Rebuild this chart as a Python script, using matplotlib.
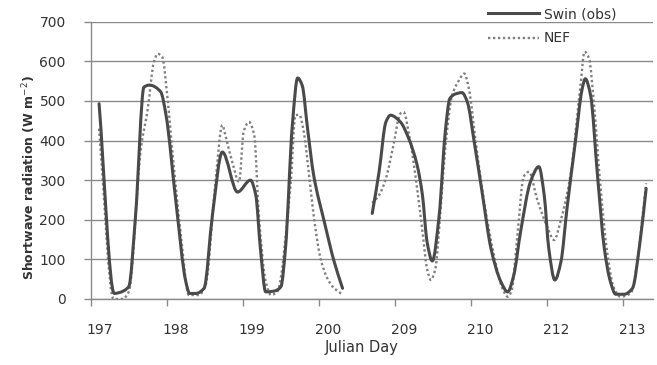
import numpy as np
import matplotlib
matplotlib.use("Agg")
import matplotlib.pyplot as plt
from matplotlib.path import Path
from matplotlib.patches import PathPatch
from matplotlib.lines import Line2D

# ---------------- data ----------------
# x is measured in "plotted days" (category axis: 0 = left edge, 1 unit = one labelled day)
day_labels = ['197', '198', '199', '200', '209', '210', '212', '213']

swin1_x = [0.11, 0.31, 0.37, 0.50, 0.59, 0.70, 0.77, 0.92, 0.99, 1.12, 1.25, 1.30, 1.38, 1.49,
           1.60, 1.73, 1.93, 2.10, 2.17, 2.23, 2.30, 2.41, 2.50, 2.56, 2.65, 2.72, 2.78, 2.85,
           2.93, 3.07, 3.20, 3.31]
swin1_y = [493, 14, 16, 31, 212, 535, 540, 523, 464, 245, 44, 14, 14, 27,
           212, 371, 270, 300, 262, 128, 18, 20, 31, 128, 439, 558, 539, 430,
           313, 195, 94, 27]

swin2_x = [3.70, 3.79, 3.88, 3.94, 4.07, 4.18, 4.29, 4.36, 4.42, 4.49, 4.58, 4.66, 4.72, 4.80,
           4.88, 4.95, 5.04, 5.15, 5.26, 5.39, 5.48, 5.56, 5.65, 5.78, 5.89, 5.96, 6.02, 6.10,
           6.18, 6.26, 6.37, 6.46, 6.50, 6.57, 6.66, 6.75, 6.83, 6.90, 7.01, 7.12, 7.22, 7.30]
swin2_y = [216, 321, 447, 464, 447, 405, 338, 262, 145, 96, 212, 422, 506, 518,
           521, 497, 397, 262, 128, 44, 18, 60, 170, 296, 334, 262, 128, 48,
           94, 229, 397, 531, 556, 514, 313, 128, 44, 12, 12, 27, 145, 279]

nef1_x = [0.11, 0.30, 0.42, 0.50, 0.66, 0.75, 0.83, 0.88, 0.94, 1.01, 1.07, 1.18, 1.29, 1.42,
          1.51, 1.64, 1.73, 1.77, 1.86, 1.95, 2.01, 2.08, 2.15, 2.21, 2.30, 2.37, 2.45, 2.63,
          2.69, 2.74, 2.80, 2.87, 2.93, 3.02, 3.11, 3.20, 3.29]
nef1_y = [430, 0, 0, 18, 380, 480, 598, 619, 611, 506, 380, 170, 10, 10,
          35, 296, 439, 413, 346, 296, 422, 447, 413, 212, 44, 10, 18, 296,
          464, 465, 422, 313, 212, 103, 52, 27, 14]

nef2_x = [3.70, 3.79, 3.88, 3.97, 4.07, 4.11, 4.20, 4.29, 4.36, 4.42, 4.47, 4.53, 4.60, 4.66,
          4.75, 4.84, 4.91, 4.97, 5.06, 5.17, 5.30, 5.41, 5.48, 5.53, 5.61, 5.69, 5.76, 5.87,
          6.00, 6.09, 6.18, 6.31, 6.44, 6.49, 6.55, 6.61, 6.70, 6.79, 6.87, 6.96, 7.10, 7.18, 7.30]
nef2_y = [242, 262, 304, 380, 468, 472, 397, 279, 170, 77, 48, 77, 229, 380,
          514, 552, 569, 531, 397, 245, 111, 27, 6, 20, 165, 309, 321, 250,
          182, 149, 200, 318, 545, 624, 607, 502, 283, 115, 31, 6, 15, 90, 292]

series_names = ['Swin (obs)', 'NEF']

# ---------------- helpers ----------------
def pchip_slopes(x, y):
    x = np.asarray(x, float); y = np.asarray(y, float)
    h = np.diff(x); d = np.diff(y) / h
    n = len(x); m = np.zeros(n)
    for i in range(1, n - 1):
        if d[i - 1] * d[i] <= 0:
            m[i] = 0.0
        else:
            w1 = 2 * h[i] + h[i - 1]; w2 = h[i] + 2 * h[i - 1]
            m[i] = (w1 + w2) / (w1 / d[i - 1] + w2 / d[i])
    m[0] = d[0]; m[-1] = d[-1]
    return m

def smooth_path(x, y):
    x = np.asarray(x, float); y = np.asarray(y, float)
    m = pchip_slopes(x, y)
    verts = [(x[0], y[0])]; codes = [Path.MOVETO]
    for i in range(len(x) - 1):
        h = x[i + 1] - x[i]
        verts += [(x[i] + h / 3, y[i] + m[i] * h / 3),
                  (x[i + 1] - h / 3, y[i + 1] - m[i + 1] * h / 3),
                  (x[i + 1], y[i + 1])]
        codes += [Path.CURVE4] * 3
    return Path(verts, codes)

# ---------------- figure ----------------
W, H = 657, 365
fig = plt.figure(figsize=(W / 100, H / 100), dpi=100)
ax = fig.add_axes([90.7 / W, 1 - 299 / H, (653 - 90.7) / W, (299 - 21.7) / H])

grid_c = '#8a8a8a'
swin_c = '#4a4a4a'
nef_c = '#808080'
text_c = '#333333'

ax.set_xlim(0, 7.39)
ax.set_ylim(0, 700)
ax.set_yticks(np.arange(0, 701, 100))
ax.yaxis.grid(True, color=grid_c, lw=1.0)
ax.set_axisbelow(True)

for s in ['top', 'right']:
    ax.spines[s].set_visible(False)
for s in ['left', 'bottom']:
    ax.spines[s].set_color(grid_c)
    ax.spines[s].set_linewidth(1.0)

# major ticks = day boundaries (no label); minor ticks carry labels
ax.set_xticks(np.arange(len(day_labels)))
ax.set_xticklabels([])
ax.set_xticks(np.arange(len(day_labels)) + 0.12, minor=True)
ax.set_xticklabels(day_labels, minor=True)
ax.tick_params(axis='x', which='major', length=5, width=1, color=grid_c, direction='out')
ax.tick_params(axis='x', which='minor', length=0, pad=17, labelsize=10, labelcolor=text_c)
ax.tick_params(axis='y', length=5, width=1, color=grid_c, pad=13, labelsize=10, labelcolor=text_c)

for xs, ys in [(nef1_x, nef1_y), (nef2_x, nef2_y)]:
    p = PathPatch(smooth_path(xs, ys), fill=False, edgecolor=nef_c, lw=1.7,
                  linestyle=(0, (1, 1.1)), capstyle='butt', zorder=3)
    ax.add_patch(p)
for xs, ys in [(swin1_x, swin1_y), (swin2_x, swin2_y)]:
    p = PathPatch(smooth_path(xs, ys), fill=False, edgecolor=swin_c, lw=2.2,
                  joinstyle='round', capstyle='round', zorder=4)
    ax.add_patch(p)

ax.set_ylabel('Shortwave radiation (W m$^{-2}$)', fontsize=9, fontweight='bold',
              color=text_c)
ax.yaxis.set_label_coords((38 - 90.7) / (653 - 90.7), (299 - 177.5) / (299 - 21.7))
ax.set_xlabel('Julian Day', fontsize=10.5, color=text_c)
ax.xaxis.set_label_coords((362 - 90.7) / (653 - 90.7), -(340 - 299) / (299 - 21.7))

handles = [Line2D([], [], color=swin_c, lw=2.2),
           Line2D([], [], color=nef_c, lw=1.7, linestyle=(0, (1, 1.1)))]
fig.legend(handles, series_names, loc='upper left', bbox_to_anchor=(488 / W, 1 - 7 / H),
           frameon=False, fontsize=10, handlelength=3.7, handletextpad=0.3,
           borderpad=0, borderaxespad=0, labelspacing=0.75, labelcolor=text_c)

fig.savefig('out.png', dpi=100)
